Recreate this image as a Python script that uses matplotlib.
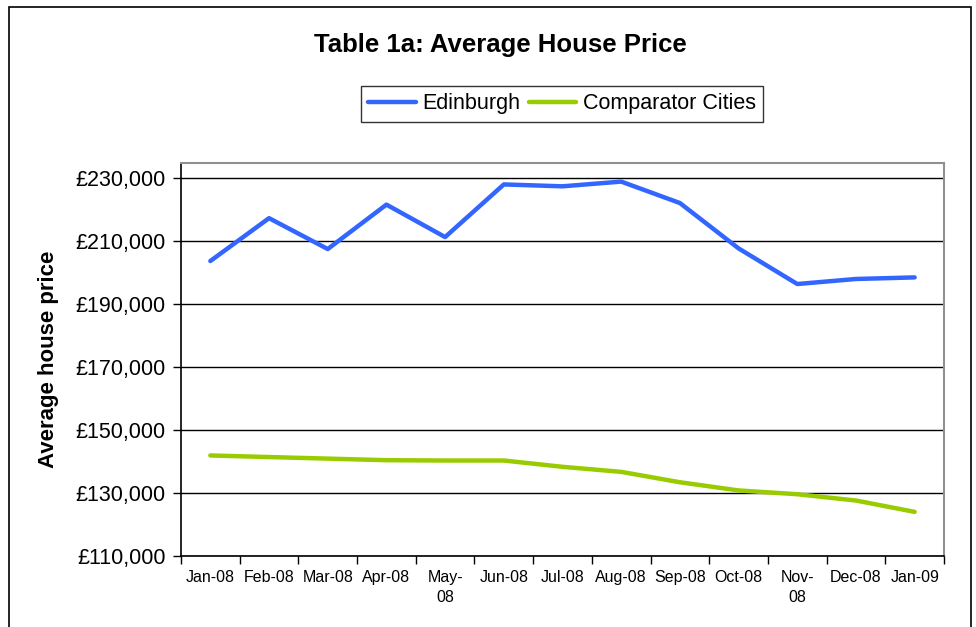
import matplotlib
matplotlib.use("Agg")
import matplotlib.pyplot as plt
from matplotlib.patches import Rectangle
from matplotlib.ticker import FuncFormatter, FixedLocator

plt.rcParams['font.family'] = ['Liberation Sans', 'DejaVu Sans']

months = ["Jan-08", "Feb-08", "Mar-08", "Apr-08", "May-\n08", "Jun-08", "Jul-08",
          "Aug-08", "Sep-08", "Oct-08", "Nov-\n08", "Dec-08", "Jan-09"]
edinburgh = [203600, 217200, 207400, 221500, 211200, 227900, 227300, 228800,
             222000, 207600, 196300, 197900, 198400]
comparator = [141900, 141400, 140900, 140400, 140300, 140300, 138300, 136700,
              133400, 130800, 129600, 127600, 124000]
yticks = [110000, 130000, 150000, 170000, 190000, 210000, 230000]

W, H = 976, 627
fig = plt.figure(figsize=(W / 100, H / 100), dpi=100)
ax = fig.add_axes([181 / W, 1 - 556 / H, (944 - 181) / W, (556 - 163) / H])

x = list(range(len(months)))
ax.plot(x, edinburgh, color='#3366FF', lw=3.2, solid_capstyle='round',
        solid_joinstyle='round', label='Edinburgh', zorder=3)
ax.plot(x, comparator, color='#99CC00', lw=3.2, solid_capstyle='round',
        solid_joinstyle='round', label='Comparator Cities', zorder=3)

ax.set_xlim(-0.5, len(months) - 0.5)
ax.set_ylim(110000, 234700)
ax.yaxis.set_major_locator(FixedLocator(yticks))
ax.yaxis.set_major_formatter(FuncFormatter(lambda v, p: "£{:,.0f}".format(v)))
ax.grid(axis='y', color='black', lw=1.0)
ax.set_axisbelow(True)

ax.set_xticks([i - 0.5 for i in range(len(months) + 1)])
ax.set_xticklabels([])
ax.set_xticks(x, minor=True)
ax.set_xticklabels(months, minor=True, fontsize=11.5, linespacing=1.45)
ax.tick_params(axis='x', which='major', length=6, width=1, direction='out')
ax.tick_params(axis='x', which='minor', length=0, pad=10)
ax.tick_params(axis='y', length=6, width=1, labelsize=15.5, pad=5)

for s in ['top', 'right']:
    ax.spines[s].set_color('#909090')
    ax.spines[s].set_linewidth(1.5)
for s in ['left', 'bottom']:
    ax.spines[s].set_color('black')
    ax.spines[s].set_linewidth(1.2)

ax.set_ylabel("Average house price", fontsize=16, fontweight='bold', labelpad=12)

fig.text(500 / W, 1 - 45 / H, "Table 1a: Average House Price", ha='center', va='center',
         fontsize=18.5, fontweight='bold')

leg = fig.legend(loc='center', bbox_to_anchor=(562 / W, 1 - 104 / H), ncol=2,
                 fontsize=15.5, frameon=True, fancybox=False, edgecolor='black',
                 handlelength=2.2, handletextpad=0.3, columnspacing=0.4,
                 borderpad=0.35, borderaxespad=0)
leg.get_frame().set_linewidth(1.0)

fig.patches.append(Rectangle((9 / W, -0.05), (971 - 9) / W, 1.05 - 7 / H,
                             transform=fig.transFigure, fill=False,
                             edgecolor='black', lw=1.2))

fig.savefig("out.png", dpi=100)
